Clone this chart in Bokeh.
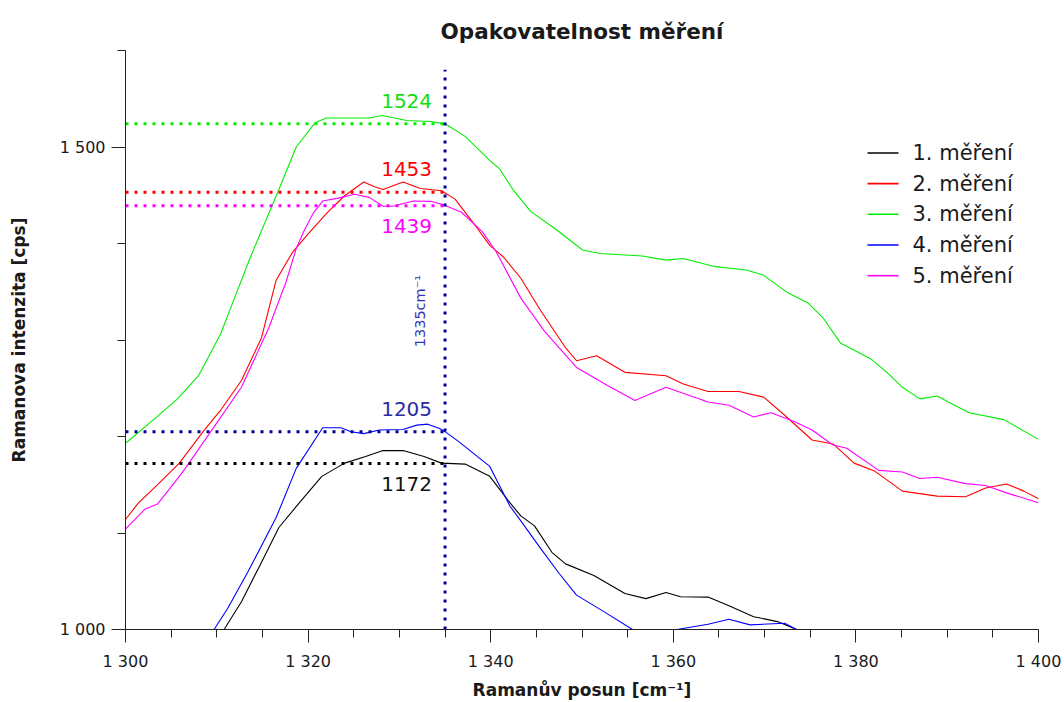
import math
from bokeh.plotting import figure
from bokeh.models import FixedTicker, ColumnDataSource
from bokeh.core.properties import value
from bokeh.embed import file_html
from bokeh.resources import INLINE

# ---------------- data ----------------
x_meas1 = [1310.0, 1310.8, 1312.7, 1314.9, 1316.8, 1319.1, 1321.5, 1324.0, 1326.3, 1328.2, 1330.4,
           1332.7, 1334.6, 1337.2, 1339.9, 1342.1, 1343.3, 1344.8, 1346.7, 1348.2, 1351.3, 1354.7,
           1357.0, 1359.2, 1360.8, 1363.8, 1366.1, 1368.8, 1371.4, 1373.5, 1374.5]
y_meas1 = [992, 1000, 1028.7, 1069.8, 1105.7, 1132, 1158.7, 1172.4, 1179.3, 1185.4, 1185.4,
           1179.3, 1172.4, 1171.4, 1158.7, 1131.4, 1117.7, 1107.4, 1080, 1068, 1056, 1037.3,
           1032, 1038.4, 1033.9, 1033.6, 1024.6, 1013.3, 1008.2, 1000, 990]

x_meas2 = [1300.0, 1301.4, 1303.6, 1305.9, 1308.5, 1310.4, 1312.7, 1314.9, 1316.5, 1318.3, 1320.2,
           1322.1, 1324.0, 1326.1, 1327.2, 1328.2, 1330.4, 1332.3, 1334.6, 1336.1, 1338.3, 1339.9,
           1341.4, 1343.3, 1345.5, 1348.2, 1349.4, 1351.6, 1354.7, 1359.2, 1361.1, 1363.8, 1367.2,
           1369.9, 1372.2, 1375.2, 1377.5, 1379.8, 1382.1, 1385.1, 1388.9, 1392.0, 1394.2, 1396.5,
           1398.4, 1400.0]
y_meas2 = [1114, 1131, 1151, 1172.4, 1205, 1227, 1258, 1302.4, 1362, 1391, 1412,
           1432, 1449.5, 1463.8, 1459, 1456, 1463.8, 1457, 1454.6, 1446, 1418.7, 1398,
           1386, 1364, 1330, 1292, 1278.5, 1283.6, 1266.5, 1263, 1254.5, 1246.7, 1246.7,
           1240.8, 1222, 1196.4, 1192.3, 1172.4, 1163.9, 1143.4, 1138.2, 1137.5, 1146.7, 1150.8,
           1143.4, 1135.5]

x_meas3 = [1300.0, 1303.4, 1305.7, 1308.0, 1310.4, 1312.0, 1313.6, 1316.8, 1318.7, 1320.8, 1322.0,
           1326.7, 1328.1, 1330.8, 1333.4, 1335.0, 1337.2, 1339.8, 1341.0, 1342.5, 1344.4, 1347.1,
           1350.1, 1352.0, 1356.6, 1359.2, 1361.1, 1364.6, 1368.0, 1369.9, 1372.6, 1374.8, 1376.4,
           1378.3, 1381.7, 1383.6, 1385.1, 1387.0, 1388.9, 1390.5, 1392.4, 1396.2, 1400.0]
y_meas3 = [1193, 1220, 1239, 1263, 1306, 1345, 1384, 1456, 1500, 1525.5, 1530,
           1530, 1532.6, 1527.5, 1526.4, 1524, 1511, 1487, 1477, 1455, 1433, 1415,
           1393, 1389.6, 1387, 1382.8, 1384.5, 1376, 1372.5, 1367, 1348.6, 1338, 1323,
           1297, 1280, 1264.7, 1251, 1239, 1242, 1234, 1224.7, 1217.5, 1197]

x_meas4 = [1308.5, 1309.7, 1311.2, 1313.4, 1316.5, 1318.7, 1321.6, 1323.6, 1324.7, 1326.1, 1327.8,
           1330.4, 1331.9, 1333.1, 1334.4, 1335.0, 1336.5, 1339.9, 1342.1, 1343.3, 1345.5, 1347.5,
           1349.4, 1352.4, 1355.4, 1357.5, 1360.4, 1363.8, 1366.1, 1368.4, 1372.2, 1373.5, 1374.5]
y_meas4 = [985, 1000, 1022, 1059.5, 1116, 1167, 1209, 1209, 1205, 1203, 1206.7,
           1207.3, 1211.8, 1212.8, 1208.3, 1205, 1194.7, 1169, 1128, 1112.6, 1083.5, 1058,
           1035.6, 1018.5, 1000.7, 988, 1000, 1005.5, 1010.6, 1004.8, 1006.5, 1000, 990]

x_meas5 = [1300.0, 1302.1, 1303.5, 1305.9, 1306.7, 1309.7, 1312.7, 1315.7, 1317.6, 1318.7, 1319.5,
           1320.6, 1321.6, 1323.3, 1325.1, 1326.7, 1328.2, 1329.3, 1331.5, 1333.4, 1334.9, 1336.8,
           1339.1, 1340.6, 1343.3, 1345.9, 1349.4, 1352.8, 1355.8, 1359.2, 1363.8, 1366.1, 1368.8,
           1370.7, 1373.3, 1375.2, 1377.5, 1379.0, 1382.5, 1385.1, 1387.0, 1388.9, 1392.0, 1394.2,
           1396.5, 1400.0]
y_meas5 = [1104, 1124.6, 1130, 1158.7, 1169, 1210, 1251, 1312.7, 1360.6, 1394.8, 1412,
           1432, 1444, 1447, 1451, 1447.8, 1438.6, 1438.6, 1444, 1443.7, 1440, 1432.4,
           1412, 1391.4, 1343.4, 1309, 1271.6, 1252.8, 1237.4, 1251, 1235.7, 1232.3, 1220.3,
           1224.7, 1215.2, 1206.7, 1191.2, 1187.8, 1164.9, 1163.2, 1156.4, 1157.7, 1151.2, 1149.2,
           1141.6, 1131.4]

series_names = ["1. měření", "2. měření", "3. měření", "4. měření", "5. měření"]
series_colors = ["#000000", "#ff0000", "#00ee00", "#0000ff", "#ff00ff"]

marker_x = 1335
marker_label = "1335cm⁻¹"
peak_values = [1172, 1453, 1524, 1205, 1439]
peak_line_colors = ["#000000", "#ff0000", "#00ee00", "#000099", "#ff00ff"]
peak_text_colors = ["#111111", "#ff0000", "#11dd11", "#2b2ba3", "#ff00ff"]
peak_label_below = [True, False, False, False, True]

x_start, x_end = 1300, 1400
y_start, y_end = 1000, 1600
x_ticks = [1300, 1320, 1340, 1360, 1380, 1400]
x_tick_labels = ["1 300", "1 320", "1 340", "1 360", "1 380", "1 400"]
y_ticks = [1000, 1500]
y_tick_labels = ["1 000", "1 500"]

FONT = "DejaVu Sans"
TXT = "#1a1a1a"

# ---------------- layout (pixels) ----------------
W, H = 1064, 702
BL, BR, BT, BB = 125, 26, 50, 67
FW, FH = W - BL - BR, H - BT - BB


def px_to_x(px):
    return x_start + (px - BL) / FW * (x_end - x_start)


def py_to_y(py):
    return y_start + (BT + FH - py) / FH * (y_end - y_start)


# ---------------- figure ----------------
p = figure(width=W, height=H, x_range=(x_start, x_end), y_range=(y_start, y_end),
           output_backend="svg", toolbar_location=None,
           min_border_left=BL, min_border_right=BR, min_border_top=BT, min_border_bottom=BB)
p.grid.visible = False
p.outline_line_color = None

p.title.text = "Opakovatelnost měření"
p.title.align = "center"
p.title.offset = 8
p.title.text_font = FONT
p.title.text_font_size = "21.5px"
p.title.text_font_style = "bold"
p.title.text_color = TXT
p.title.standoff = 14

# curves
xs_all = [x_meas1, x_meas2, x_meas3, x_meas4, x_meas5]
ys_all = [y_meas1, y_meas2, y_meas3, y_meas4, y_meas5]
for xs, ys, c in zip(xs_all, ys_all, series_colors):
    p.line(xs, ys, line_color=c, line_width=1.1)

# dotted peak lines
p.segment(x0=[x_start] * len(peak_values), y0=peak_values, x1=[marker_x] * len(peak_values),
          y1=peak_values, line_color=peak_line_colors, line_width=3, line_dash="3 6")
p.segment(x0=[marker_x], y0=[y_start], x1=[marker_x], y1=[1580],
          line_color="#000099", line_width=3, line_dash="3 6")

# peak labels
lab_src = ColumnDataSource(dict(
    x=[marker_x] * len(peak_values), y=peak_values, text=[str(v) for v in peak_values],
    color=peak_text_colors, yoff=[20 if b else -23 for b in peak_label_below]))
p.text(x="x", y="y", text="text", source=lab_src, text_color="color", y_offset="yoff",
       x_offset=-13, text_align="right", text_baseline="middle",
       text_font=value(FONT), text_font_size="20px")

p.text(x=[marker_x], y=[1330], text=[marker_label], angle=math.pi / 2, x_offset=-25,
       text_align="center", text_baseline="middle", text_color="#3535b0",
       text_font=value(FONT), text_font_size="14.5px")

# legend (drawn manually, pixel layout converted to data space)
leg_rows_py = [153.5 + 31 * i for i in range(len(series_names))]
leg_y = [py_to_y(v) for v in leg_rows_py]
p.segment(x0=[px_to_x(867)] * len(leg_y), y0=leg_y, x1=[px_to_x(898)] * len(leg_y), y1=leg_y,
          line_color=series_colors, line_width=1.6)
p.text(x=[px_to_x(912)] * len(leg_y), y=leg_y, text=series_names, text_align="left",
       text_baseline="middle", text_color=TXT, text_font=value(FONT), text_font_size="21px")

# axes
for ax in (p.xaxis[0], p.yaxis[0]):
    ax.axis_line_color = "#222222"
    ax.major_tick_line_color = "#222222"
    ax.minor_tick_line_color = "#222222"
    ax.major_tick_in = 0
    ax.minor_tick_in = 0
    ax.minor_tick_out = 8
    ax.major_label_text_font = FONT
    ax.major_label_text_font_size = "16px"
    ax.major_label_text_color = TXT
    ax.axis_label_text_font = FONT
    ax.axis_label_text_font_size = "17px"
    ax.axis_label_text_font_style = "bold"
    ax.axis_label_text_color = TXT

p.xaxis.ticker = FixedTicker(ticks=x_ticks, minor_ticks=list(range(x_start, x_end + 1, 5)))
p.xaxis.major_label_overrides = {t: l for t, l in zip(x_ticks, x_tick_labels)}
p.xaxis.major_tick_out = 13
p.xaxis.major_label_standoff = 9
p.xaxis.axis_label = "Ramanův posun [cm⁻¹]"
p.xaxis.axis_label_standoff = 6

p.yaxis.ticker = FixedTicker(ticks=y_ticks, minor_ticks=list(range(y_start, y_end + 1, 100)))
p.yaxis.major_label_overrides = {t: l for t, l in zip(y_ticks, y_tick_labels)}
p.yaxis.major_tick_out = 14
p.yaxis.major_label_standoff = 6
p.yaxis.axis_label = "Ramanova intenzita [cps]"
p.yaxis.axis_label_standoff = 28

open("out.html", "w").write(file_html(p, INLINE))
